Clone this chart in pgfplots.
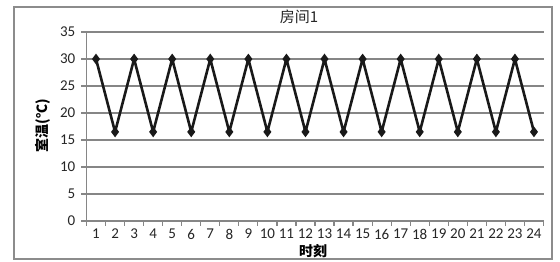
\documentclass[border=0pt]{standalone}
\usepackage{fontspec}
\setmainfont{Carlito}
\newfontfamily\cjk{Noto Sans CJK SC}
\usepackage{pgfplots}
\pgfplotsset{compat=1.18}
\definecolor{gridgray}{RGB}{134,134,134}
\definecolor{framegray}{RGB}{140,140,140}
\begin{document}
\begin{tikzpicture}[x=1pt,y=1pt]
\useasboundingbox (0,0) rectangle (560,262);
\fill[white] (0,0) rectangle (560,262);
\draw[framegray, line width=1.2pt] (14,3) rectangle (552,255);
\begin{axis}[
  at={(86.5pt,41pt)}, anchor=south west,
  scale only axis, width=457pt, height=189pt,
  xmin=0.5, xmax=24.5, ymin=0, ymax=35,
  axis x line*=bottom, axis y line*=left,
  axis line style={gridgray, line width=1.2pt, -},
  xtick={1,...,24},
  major x tick style={draw=none},
  minor xtick={0.5,1.5,...,24.5},
  minor x tick style={gridgray, line width=1.2pt},
  minor tick length=5pt,
  ytick={0,5,...,35},
  major y tick style={gridgray, line width=1.2pt},
  major tick length=5pt,
  tick align=outside,
  ymajorgrids,
  major grid style={gridgray, line width=1.2pt},
  /pgf/number format/assume math mode=true,
  xticklabel style={font=\fontsize{15}{17}\selectfont, text=black!85, inner sep=1pt, yshift=-2pt},
  yticklabel style={font=\fontsize{15}{17}\selectfont, text=black!85, inner sep=1pt, xshift=-5pt},
  clip=false,
]
\addplot[black!90, line width=2.6pt, mark=diamond*, mark size=3.2pt, mark options={solid}] coordinates {
(1,30) (2,16.5) (3,30) (4,16.5) (5,30) (6,16.5) (7,30) (8,16.5)
(9,30) (10,16.5) (11,30) (12,16.5) (13,30) (14,16.5) (15,30) (16,16.5)
(17,30) (18,16.5) (19,30) (20,16.5) (21,30) (22,16.5) (23,30) (24,16.5)
};
\end{axis}
\node[font=\cjk\fontsize{15}{17}\selectfont, text=black!85] at (299,245) {房间1};
\node[font=\cjk\bfseries\fontsize{14}{16}\selectfont, rotate=90] at (43,136) {室温(℃)};
\node[font=\cjk\bfseries\fontsize{14}{16}\selectfont] at (313,11) {时刻};
\end{tikzpicture}
\end{document}
